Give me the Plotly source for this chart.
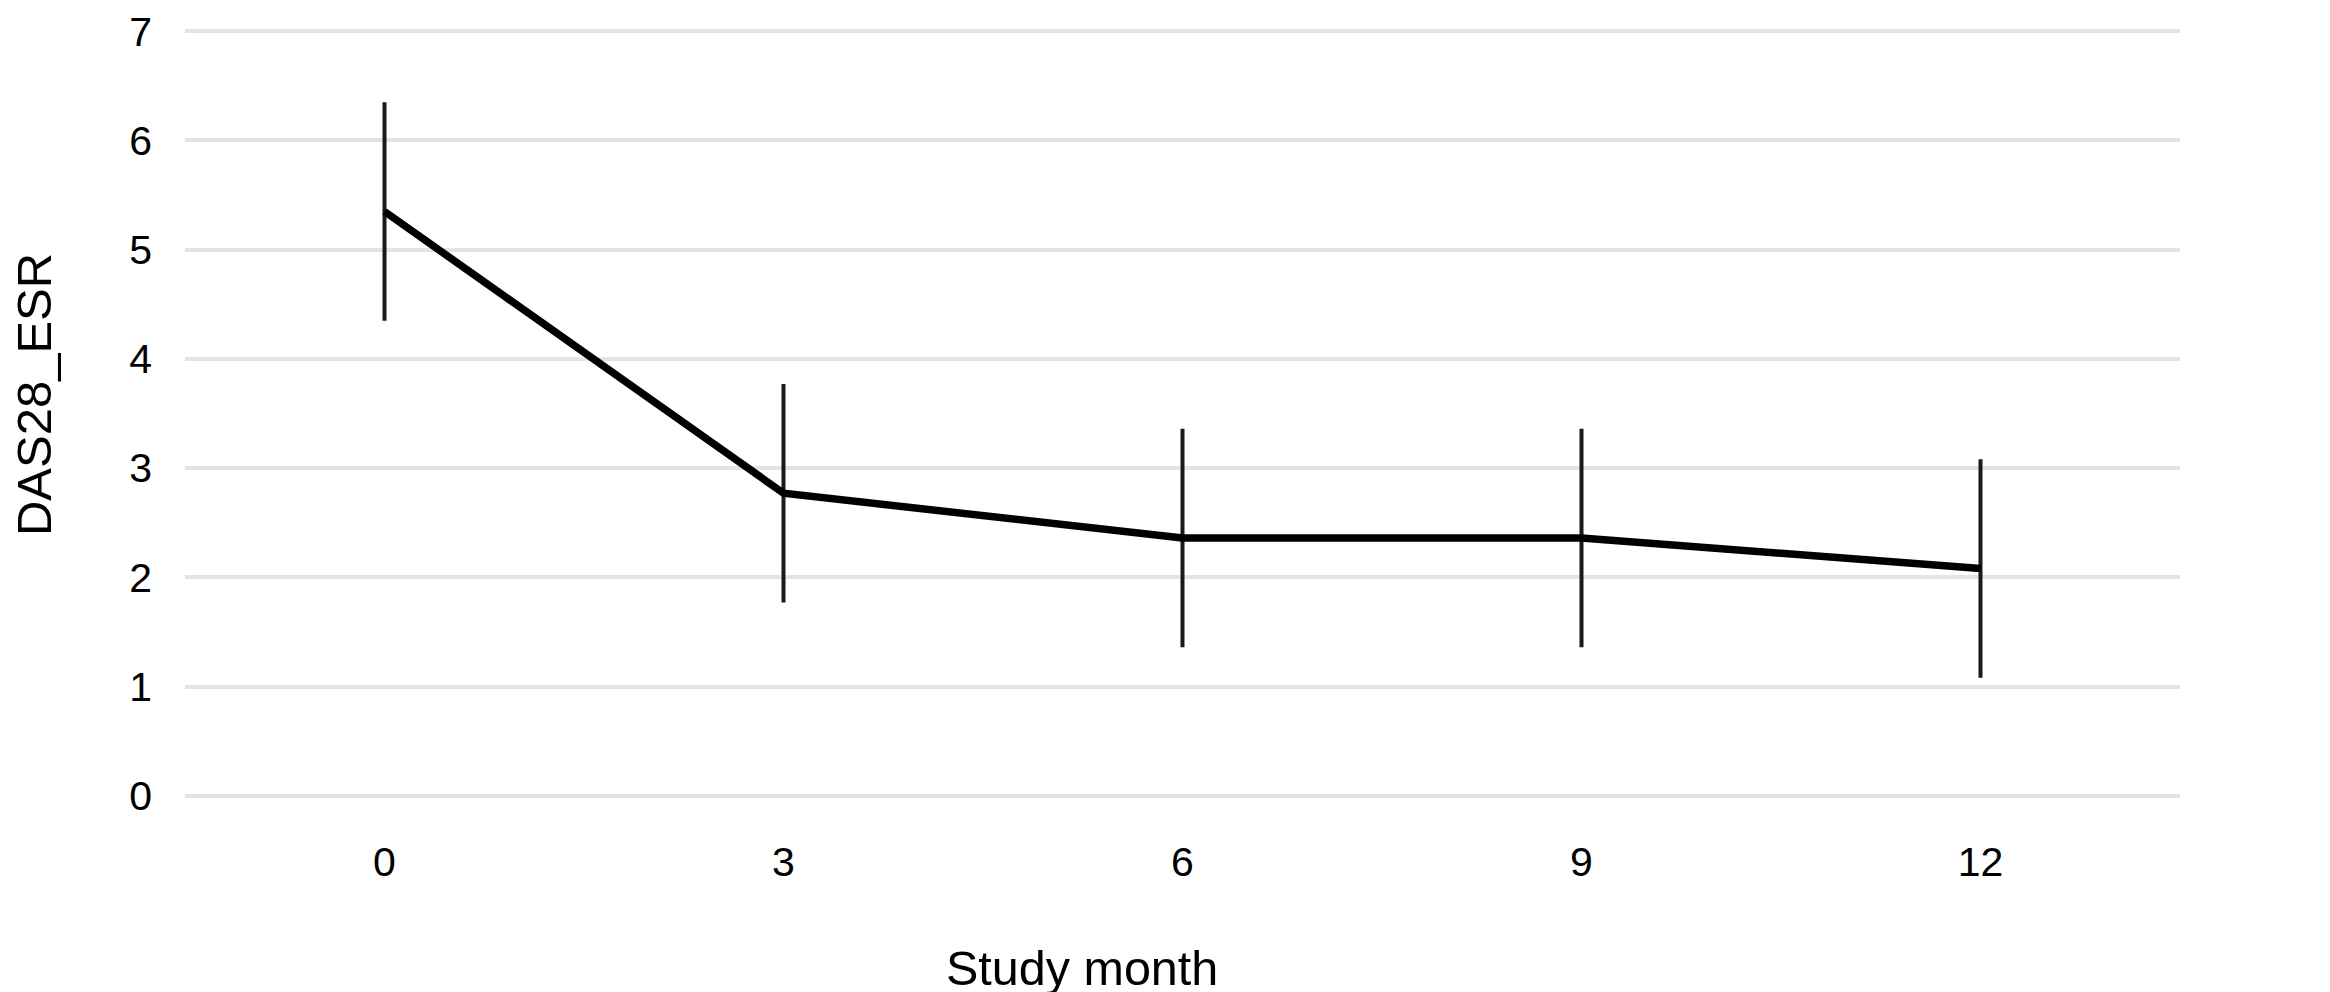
import plotly.graph_objects as go

# Data
months = [0, 3, 6, 9, 12]
das28_mean = [5.35, 2.77, 2.36, 2.36, 2.08]
das28_err = [1.0, 1.0, 1.0, 1.0, 1.0]
x_tick_labels = ["0", "3", "6", "9", "12"]
y_ticks = [0, 1, 2, 3, 4, 5, 6, 7]
x_title = "Study month"
y_title = "DAS28_ESR"

FONT = "Liberation Sans, Arial, Helvetica, sans-serif"

fig = go.Figure()
fig.add_trace(go.Scatter(
    x=months,
    y=das28_mean,
    mode="lines",
    line=dict(color="#000000", width=7.5),
    error_y=dict(type="data", array=das28_err, visible=True,
                 color="#1a1a1a", thickness=4, width=0),
    showlegend=False,
    hoverinfo="x+y",
))

fig.update_layout(
    width=2330,
    height=992,
    paper_bgcolor="white",
    plot_bgcolor="white",
    margin=dict(l=177, r=158, t=20, b=201),
    font=dict(family=FONT, color="black"),
    xaxis=dict(
        range=[-1.5, 13.5],
        tickmode="array",
        tickvals=months,
        ticktext=x_tick_labels,
        showgrid=False,
        zeroline=False,
        showline=False,
        ticks="",
        tickfont=dict(size=41, color="black"),
        ticklabelstandoff=35,
        ticklabeloverflow="allow",
        automargin=False,
    ),
    yaxis=dict(
        range=[-0.03, 7.03],
        tickmode="array",
        tickvals=y_ticks,
        showgrid=True,
        gridcolor="#e4e4e4",
        gridwidth=4,
        zeroline=False,
        showline=False,
        ticks="",
        tickfont=dict(size=41, color="black"),
        ticklabelstandoff=32,
        ticklabeloverflow="allow",
        automargin=False,
    ),
    annotations=[
        dict(text=x_title, xref="paper", yref="paper", x=0.4494, y=-0.2192,
             xanchor="center", yanchor="middle", showarrow=False,
             font=dict(size=48.5, color="black", family=FONT)),
        dict(text=y_title, xref="paper", yref="paper", x=-0.0759, y=0.5246,
             xanchor="center", yanchor="middle", showarrow=False, textangle=-90,
             font=dict(size=49, color="black", family=FONT)),
    ],
)

fig.write_html("out.html")
